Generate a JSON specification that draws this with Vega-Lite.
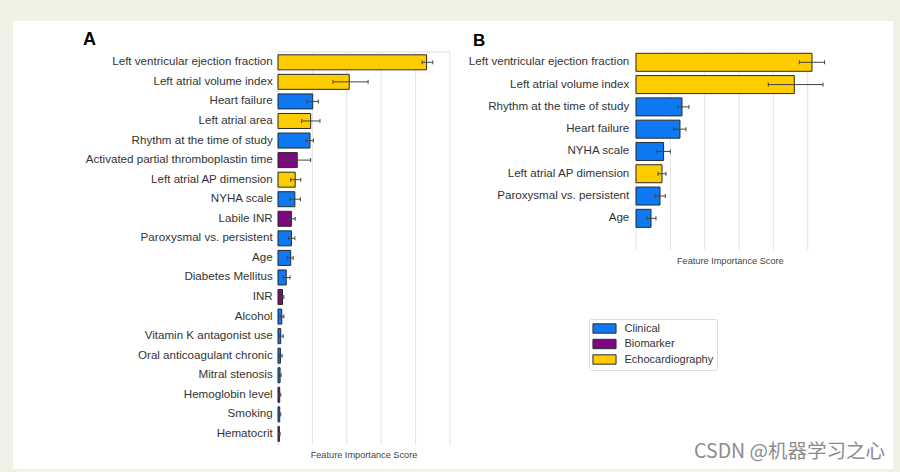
{
  "$schema": "https://vega.github.io/schema/vega-lite/v6.json",
  "background": "#f0f0e4",
  "padding": {"left": 13, "top": 21, "right": 7, "bottom": 3},
  "spacing": 0,
  "config": {
    "view": {"stroke": null, "fill": "white"},
    "font": "Liberation Sans"
  },
  "datasets": {
    "grid": [{"g": 0}, {"g": 1}, {"g": 2}, {"g": 3}, {"g": 4}, {"g": 5}],
    "a": [
      {"rank": 1, "name": "Left ventricular ejection fraction", "category": "Echocardiography", "value": 4.32, "lo": 4.19, "hi": 4.50},
      {"rank": 2, "name": "Left atrial volume index", "category": "Echocardiography", "value": 2.07, "lo": 1.60, "hi": 2.62},
      {"rank": 3, "name": "Heart failure", "category": "Clinical", "value": 1.01, "lo": 0.84, "hi": 1.17},
      {"rank": 4, "name": "Left atrial area", "category": "Echocardiography", "value": 0.95, "lo": 0.69, "hi": 1.22},
      {"rank": 5, "name": "Rhythm at the time of study", "category": "Clinical", "value": 0.93, "lo": 0.81, "hi": 1.03},
      {"rank": 6, "name": "Activated partial thromboplastin time", "category": "Biomarker", "value": 0.56, "lo": 0.25, "hi": 0.95},
      {"rank": 7, "name": "Left atrial AP dimension", "category": "Echocardiography", "value": 0.50, "lo": 0.37, "hi": 0.66},
      {"rank": 8, "name": "NYHA scale", "category": "Clinical", "value": 0.49, "lo": 0.35, "hi": 0.65},
      {"rank": 9, "name": "Labile INR", "category": "Biomarker", "value": 0.39, "lo": 0.31, "hi": 0.50},
      {"rank": 10, "name": "Paroxysmal vs. persistent", "category": "Clinical", "value": 0.39, "lo": 0.30, "hi": 0.49},
      {"rank": 11, "name": "Age", "category": "Clinical", "value": 0.37, "lo": 0.27, "hi": 0.44},
      {"rank": 12, "name": "Diabetes Mellitus", "category": "Clinical", "value": 0.24, "lo": 0.15, "hi": 0.35},
      {"rank": 13, "name": "INR", "category": "Biomarker", "value": 0.13, "lo": 0.06, "hi": 0.17},
      {"rank": 14, "name": "Alcohol", "category": "Clinical", "value": 0.11, "lo": 0.06, "hi": 0.17},
      {"rank": 15, "name": "Vitamin K antagonist use", "category": "Clinical", "value": 0.08, "lo": 0.04, "hi": 0.15},
      {"rank": 16, "name": "Oral anticoagulant chronic", "category": "Clinical", "value": 0.07, "lo": 0.04, "hi": 0.12},
      {"rank": 17, "name": "Mitral stenosis", "category": "Clinical", "value": 0.06, "lo": 0.03, "hi": 0.09},
      {"rank": 18, "name": "Hemoglobin level", "category": "Biomarker", "value": 0.05, "lo": 0.02, "hi": 0.08},
      {"rank": 19, "name": "Smoking", "category": "Clinical", "value": 0.05, "lo": 0.02, "hi": 0.08},
      {"rank": 20, "name": "Hematocrit", "category": "Biomarker", "value": 0.04, "lo": 0.02, "hi": 0.06}
    ],
    "b": [
      {"rank": 1, "name": "Left ventricular ejection fraction", "category": "Echocardiography", "value": 5.125, "lo": 4.755, "hi": 5.492},
      {"rank": 2, "name": "Left atrial volume index", "category": "Echocardiography", "value": 4.61, "lo": 3.853, "hi": 5.446},
      {"rank": 3, "name": "Rhythm at the time of study", "category": "Clinical", "value": 1.34, "lo": 1.211, "hi": 1.543},
      {"rank": 4, "name": "Heart failure", "category": "Clinical", "value": 1.281, "lo": 1.095, "hi": 1.456},
      {"rank": 5, "name": "NYHA scale", "category": "Clinical", "value": 0.804, "lo": 0.612, "hi": 0.999},
      {"rank": 6, "name": "Left atrial AP dimension", "category": "Echocardiography", "value": 0.757, "lo": 0.641, "hi": 0.874},
      {"rank": 7, "name": "Paroxysmal vs. persistent", "category": "Clinical", "value": 0.699, "lo": 0.553, "hi": 0.853},
      {"rank": 8, "name": "Age", "category": "Clinical", "value": 0.437, "lo": 0.32, "hi": 0.582}
    ]
  },
  "resolve": {"scale": {"x": "independent", "y": "independent", "color": "shared"}, "legend": {"color": "shared"}},
  "hconcat": [
    {
      "width": 447,
      "height": 448,
      "layer": [
        {
          "data": {"name": "grid"},
          "mark": {"type": "rule", "color": "#e3e3e3", "strokeWidth": 1},
          "encoding": {
            "x": {"field": "g", "type": "quantitative", "scale": {"domain": [-7.7035, 5.2907], "nice": false, "zero": false, "padding": 0}, "axis": null},
            "y": {"datum": 0.473, "type": "quantitative", "scale": {"domain": [-1.1115, 21.793], "reverse": true, "nice": false, "zero": false, "padding": 0}, "axis": null},
            "y2": {"datum": 20.566}
          }
        },
        {
          "data": {"values": [{}]},
          "mark": {"type": "rule", "color": "#dcdcdc", "strokeWidth": 1},
          "encoding": {
            "x": {"datum": 0, "type": "quantitative"},
            "x2": {"datum": 5},
            "y": {"datum": 0.473, "type": "quantitative"}
          }
        },
        {
          "data": {"name": "a"},
          "mark": {"type": "bar", "orient": "horizontal", "size": 15, "stroke": "#2a2a2a", "strokeWidth": 1, "opacity": 1},
          "encoding": {
            "x": {"field": "value", "type": "quantitative"},
            "x2": {"datum": 0},
            "y": {"field": "rank", "type": "quantitative"},
            "color": {
              "field": "category", "type": "nominal",
              "scale": {"domain": ["Clinical", "Biomarker", "Echocardiography"], "range": ["#0f79f4", "#7d087f", "#ffcc00"]},
              "legend": {
                "orient": "none", "legendX": 576, "legendY": 298, "title": null,
                "symbolType": "M-2.1,-0.85H2.1V0.85H-2.1Z", "symbolSize": 121, "symbolOffset": 6,
                "symbolStrokeColor": "#333", "symbolStrokeWidth": 1, "symbolOpacity": 1,
                "labelFontSize": 11, "labelOffset": 14, "labelColor": "#333", "labelFont": "Liberation Sans",
                "rowPadding": 1.5, "padding": 3.5,
                "fillColor": "white", "strokeColor": "#dcdcdc", "cornerRadius": 2
              }
            }
          }
        },
        {
          "data": {"name": "a"},
          "mark": {"type": "rule", "color": "#444", "strokeWidth": 1},
          "encoding": {
            "x": {"field": "lo", "type": "quantitative"},
            "x2": {"field": "hi"},
            "y": {"field": "rank", "type": "quantitative"}
          }
        },
        {
          "data": {"name": "a"},
          "mark": {"type": "tick", "orient": "vertical", "size": 4, "thickness": 1, "color": "#444", "opacity": 1},
          "encoding": {
            "x": {"field": "lo", "type": "quantitative"},
            "y": {"field": "rank", "type": "quantitative"}
          }
        },
        {
          "data": {"name": "a"},
          "mark": {"type": "tick", "orient": "vertical", "size": 4, "thickness": 1, "color": "#444", "opacity": 1},
          "encoding": {
            "x": {"field": "hi", "type": "quantitative"},
            "y": {"field": "rank", "type": "quantitative"}
          }
        },
        {
          "data": {"name": "a"},
          "mark": {"type": "text", "align": "right", "baseline": "middle", "dx": -5.3, "fontSize": 11.6, "color": "#333"},
          "encoding": {
            "x": {"datum": 0, "type": "quantitative"},
            "y": {"field": "rank", "type": "quantitative"},
            "text": {"field": "name"}
          }
        },
        {
          "data": {"values": [{"t": "A"}]},
          "mark": {"type": "text", "align": "left", "baseline": "middle", "fontSize": 18, "fontWeight": "bold", "color": "#000"},
          "encoding": {
            "x": {"datum": -5.67, "type": "quantitative"},
            "y": {"datum": -0.14, "type": "quantitative"},
            "text": {"field": "t"}
          }
        },
        {
          "data": {"values": [{"t": "Feature Importance Score"}]},
          "mark": {"type": "text", "align": "center", "baseline": "middle", "fontSize": 9.2, "color": "#444"},
          "encoding": {
            "x": {"datum": 2.5, "type": "quantitative"},
            "y": {"datum": 21.077, "type": "quantitative"},
            "text": {"field": "t"}
          }
        }
      ]
    },
    {
      "width": 433,
      "height": 448,
      "layer": [
        {
          "data": {"name": "grid"},
          "mark": {"type": "rule", "color": "#e3e3e3", "strokeWidth": 1},
          "encoding": {
            "x": {"field": "g", "type": "quantitative", "scale": {"domain": [-5.125, 7.484], "nice": false, "zero": false, "padding": 0}, "axis": null},
            "y": {"datum": 0.538, "type": "quantitative", "scale": {"domain": [-0.8529, 19.246], "reverse": true, "nice": false, "zero": false, "padding": 0}, "axis": null},
            "y2": {"datum": 9.421}
          }
        },
        {
          "data": {"name": "b"},
          "mark": {"type": "bar", "orient": "horizontal", "size": 18, "stroke": "#2a2a2a", "strokeWidth": 1, "opacity": 1},
          "encoding": {
            "x": {"field": "value", "type": "quantitative"},
            "x2": {"datum": 0},
            "y": {"field": "rank", "type": "quantitative"},
            "color": {"field": "category", "type": "nominal"}
          }
        },
        {
          "data": {"name": "b"},
          "mark": {"type": "rule", "color": "#444", "strokeWidth": 1},
          "encoding": {
            "x": {"field": "lo", "type": "quantitative"},
            "x2": {"field": "hi"},
            "y": {"field": "rank", "type": "quantitative"}
          }
        },
        {
          "data": {"name": "b"},
          "mark": {"type": "tick", "orient": "vertical", "size": 4, "thickness": 1, "color": "#444", "opacity": 1},
          "encoding": {
            "x": {"field": "lo", "type": "quantitative"},
            "y": {"field": "rank", "type": "quantitative"}
          }
        },
        {
          "data": {"name": "b"},
          "mark": {"type": "tick", "orient": "vertical", "size": 4, "thickness": 1, "color": "#444", "opacity": 1},
          "encoding": {
            "x": {"field": "hi", "type": "quantitative"},
            "y": {"field": "rank", "type": "quantitative"}
          }
        },
        {
          "data": {"name": "b"},
          "mark": {"type": "text", "align": "right", "baseline": "middle", "dx": -6.7, "fontSize": 11.6, "color": "#333"},
          "encoding": {
            "x": {"datum": 0, "type": "quantitative"},
            "y": {"field": "rank", "type": "quantitative"},
            "text": {"field": "name"}
          }
        },
        {
          "data": {"values": [{"t": "B"}]},
          "mark": {"type": "text", "align": "left", "baseline": "middle", "fontSize": 17, "fontWeight": "bold", "color": "#000"},
          "encoding": {
            "x": {"datum": -4.747, "type": "quantitative"},
            "y": {"datum": 0.044, "type": "quantitative"},
            "text": {"field": "t"}
          }
        },
        {
          "data": {"values": [{"t": "Feature Importance Score"}]},
          "mark": {"type": "text", "align": "center", "baseline": "middle", "fontSize": 9.2, "color": "#444"},
          "encoding": {
            "x": {"datum": 2.746, "type": "quantitative"},
            "y": {"datum": 9.892, "type": "quantitative"},
            "text": {"field": "t"}
          }
        },
        {
          "data": {"values": [{"t": "CSDN @机器学习之心"}]},
          "mark": {"type": "text", "align": "right", "baseline": "middle", "fontSize": 19.5, "font": "Noto Sans CJK SC", "color": "#8c8c8c"},
          "encoding": {
            "x": {"datum": 7.251, "type": "quantitative"},
            "y": {"datum": 18.483, "type": "quantitative"},
            "text": {"field": "t"}
          }
        }
      ]
    }
  ]
}
